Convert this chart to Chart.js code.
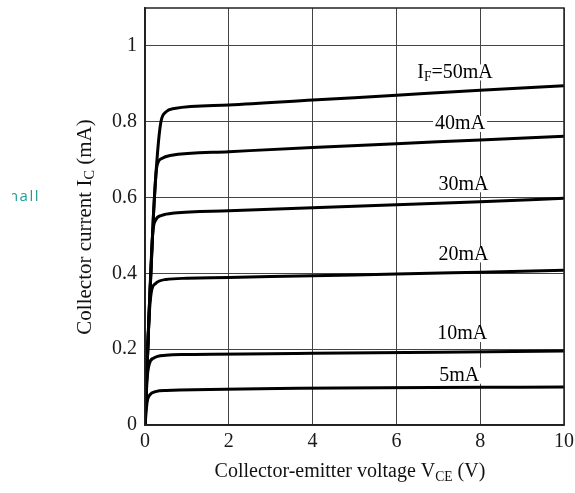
<!DOCTYPE html>
<html>
<head>
<meta charset="utf-8">
<script src="https://cdn.jsdelivr.net/npm/chart.js@4.4.1/dist/chart.umd.min.js"></script>
<style>
  html, body { margin: 0; padding: 0; background: #fff; }
  #wrap { width: 575px; height: 493px; position: relative; }
</style>
</head>
<body>
<div id="wrap"><canvas id="chart"></canvas></div>
<script>
// output characteristics: V_CE (V) -> I_C (mA)
const v50 = [0, 0.1, 0.2, 0.3, 0.38, 0.5, 0.7, 2, 4, 6, 8, 10];
const i50 = [0, 0.3, 0.55, 0.72, 0.8, 0.826, 0.835, 0.844, 0.857, 0.870, 0.883, 0.895];
const v40 = [0, 0.1, 0.2, 0.28, 0.4, 0.6, 2, 4, 6, 8, 10];
const i40 = [0, 0.3, 0.55, 0.68, 0.703, 0.711, 0.721, 0.732, 0.742, 0.752, 0.762];
const v30 = [0, 0.1, 0.18, 0.25, 0.4, 0.7, 2, 4, 6, 8, 10];
const i30 = [0, 0.3, 0.5, 0.54, 0.553, 0.559, 0.565, 0.573, 0.581, 0.589, 0.598];
const v20 = [0, 0.08, 0.15, 0.25, 0.5, 1, 2, 4, 6, 8, 10];
const i20 = [0, 0.25, 0.35, 0.373, 0.384, 0.387, 0.389, 0.394, 0.398, 0.403, 0.408];
const v10 = [0, 0.05, 0.1, 0.2, 0.5, 1, 4, 10];
const i10 = [0, 0.12, 0.16, 0.176, 0.184, 0.186, 0.189, 0.195];
const v5 = [0, 0.05, 0.12, 0.25, 0.5, 10];
const i5 = [0, 0.06, 0.08, 0.088, 0.091, 0.1];

const xTicks = [0, 2, 4, 6, 8, 10];
const yTicks = [0, 0.2, 0.4, 0.6, 0.8, 1];

// curve labels: main text, subscript, rest, and where they sit (data units)
const curveLabels = [
    { pre: "I", sub: "F", post: "=50mA", x: 7.4, y: 0.93 },
    { pre: "40mA", sub: "", post: "", x: 7.52, y: 0.794 },
    { pre: "30mA", sub: "", post: "", x: 7.6, y: 0.635 },
    { pre: "20mA", sub: "", post: "", x: 7.6, y: 0.45 },
    { pre: "10mA", sub: "", post: "", x: 7.57, y: 0.24 },
    { pre: "5mA", sub: "", post: "", x: 7.5, y: 0.13 },
];

const SERIF = "'Liberation Serif', 'DejaVu Serif', serif";

const toPoints = (vs, is) => vs.map((v, k) => ({ x: v, y: is[k] }));

const makeSet = (vs, is) => ({
    data: toPoints(vs, is),
    borderColor: "#000",
    borderWidth: 3,
    pointRadius: 0,
    fill: false,
    cubicInterpolationMode: "monotone",
});

// text with one subscript part in the middle
const drawSubText = (ctx, parts, x, y, size, align) => {
    const subSize = size * 0.68;
    ctx.font = `${size}px ${SERIF}`;
    const w1 = ctx.measureText(parts[0]).width;
    ctx.font = `${subSize}px ${SERIF}`;
    const w2 = ctx.measureText(parts[1]).width;
    ctx.font = `${size}px ${SERIF}`;
    const w3 = ctx.measureText(parts[2]).width;
    const total = w1 + w2 + w3;
    const sx = align === "center" ? x - total / 2 : x;
    ctx.textAlign = "left";
    ctx.textBaseline = "middle";
    ctx.fillText(parts[0], sx, y);
    ctx.font = `${subSize}px ${SERIF}`;
    ctx.fillText(parts[1], sx + w1, y + size * 0.25);
    ctx.font = `${size}px ${SERIF}`;
    ctx.fillText(parts[2], sx + w1 + w2, y);
    return total;
};

const textPlugin = {
    id: "texts",
    afterDatasetsDraw(chart) {
        const ctx = chart.ctx;
        const xs = chart.scales.x;
        const ys = chart.scales.y;
        ctx.save();
        curveLabels.forEach((lb) => {
            const px = xs.getPixelForValue(lb.x);
            const py = ys.getPixelForValue(lb.y);
            ctx.font = `20px ${SERIF}`;
            const w = ctx.measureText(lb.pre + lb.post).width +
                (lb.sub ? 9 : 0);
            ctx.fillStyle = "#fff";
            ctx.fillRect(px - w / 2 - 2, py - 8, w + 4, 16);
            ctx.fillStyle = "#000";
            drawSubText(ctx, [lb.pre, lb.sub, lb.post], px, py, 20, "center");
        });
        ctx.restore();
    },
    afterDraw(chart) {
        const ctx = chart.ctx;
        ctx.save();
        ctx.fillStyle = "#111";
        // x title
        drawSubText(ctx, ["Collector-emitter voltage V", "CE", " (V)"], 350, 472, 20, "center");
        // y title
        ctx.translate(85, 227);
        ctx.rotate(-Math.PI / 2);
        drawSubText(ctx, ["Collector current I", "C", " (mA)"], 0, 0, 21, "center");
        ctx.restore();
        // cut-off teal word at the far left edge
        ctx.save();
        ctx.beginPath();
        ctx.rect(12, 180, 40, 40);
        ctx.clip();
        ctx.fillStyle = "#1f9c9c";
        ctx.font = "15px 'Open Sans', sans-serif";
        ctx.letterSpacing = "1.5px";
        ctx.textAlign = "right";
        ctx.textBaseline = "middle";
        ctx.fillText("small", 40, 197);
        ctx.restore();
    },
};

new Chart(document.getElementById("chart"), {
    type: "line",
    data: {
        datasets: [
            makeSet(v50, i50),
            makeSet(v40, i40),
            makeSet(v30, i30),
            makeSet(v20, i20),
            makeSet(v10, i10),
            makeSet(v5, i5),
        ],
    },
    options: {
        responsive: true,
        maintainAspectRatio: false,
        animation: false,
        layout: { padding: { top: 8, right: 11, left: 0, bottom: 0 } },
        plugins: {
            legend: { display: false },
            tooltip: { enabled: false },
        },
        scales: {
            x: {
                type: "linear",
                min: 0,
                max: 10,
                afterBuildTicks: (scale) => {
                    scale.ticks = xTicks.map((v) => ({ value: v }));
                },
                afterFit: (scale) => {
                    scale.height = 68;
                    scale.paddingLeft = 0;
                    scale.paddingRight = 0;
                },
                grid: {
                    color: "#444",
                    lineWidth: 1,
                    drawTicks: false,
                },
                border: { color: "#222", width: 1.5 },
                ticks: {
                    color: "#1a1a1a",
                    padding: 5,
                    maxRotation: 0,
                    font: { family: SERIF, size: 20 },
                    callback: (v) => String(v),
                },
            },
            y: {
                type: "linear",
                min: 0,
                max: 1.1,
                afterBuildTicks: (scale) => {
                    scale.ticks = yTicks.map((v) => ({ value: v }));
                },
                afterFit: (scale) => {
                    scale.width = 145;
                    scale.paddingTop = 0;
                    scale.paddingBottom = 0;
                },
                grid: {
                    color: "#444",
                    lineWidth: 1,
                    drawTicks: false,
                },
                border: { color: "#222", width: 1.5 },
                ticks: {
                    color: "#1a1a1a",
                    padding: 8,
                    font: { family: SERIF, size: 20 },
                    callback: (v) => String(v),
                },
            },
        },
    },
    plugins: [
        textPlugin,
        {
            id: "frame",
            afterDatasetsDraw(chart) {
                const a = chart.chartArea;
                const ctx = chart.ctx;
                ctx.save();
                ctx.strokeStyle = "#222";
                ctx.lineWidth = 1.5;
                ctx.strokeRect(a.left, a.top, a.right - a.left, a.bottom - a.top);
                ctx.restore();
            },
        },
    ],
});
</script>
</body>
</html>
